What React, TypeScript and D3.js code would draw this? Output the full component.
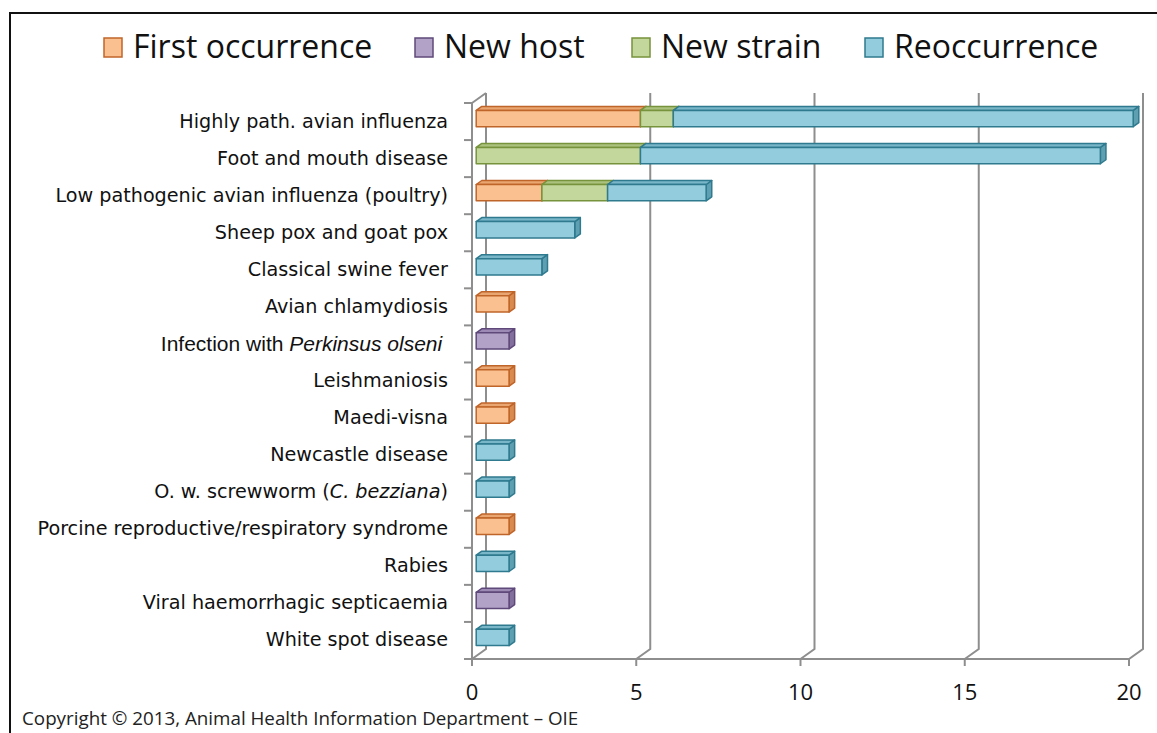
import React from "react";
import * as d3 from "d3";

const categories = [
  "Highly path. avian influenza",
  "Foot and mouth disease",
  "Low pathogenic avian influenza (poultry)",
  "Sheep pox and goat pox",
  "Classical swine fever",
  "Avian chlamydiosis",
  "Infection with *Perkinsus olseni* ",
  "Leishmaniosis",
  "Maedi-visna",
  "Newcastle disease",
  "O. w. screwworm (*C. bezziana*)",
  "Porcine reproductive/respiratory syndrome",
  "Rabies",
  "Viral haemorrhagic septicaemia",
  "White spot disease",
];

const seriesNames = ["First occurrence", "New host", "New strain", "Reoccurrence"];
const firstOccurrence = [5, 0, 2, 0, 0, 1, 0, 1, 1, 0, 0, 1, 0, 0, 0];
const newHost = [0, 0, 0, 0, 0, 0, 1, 0, 0, 0, 0, 0, 0, 1, 0];
const newStrain = [1, 5, 2, 0, 0, 0, 0, 0, 0, 0, 0, 0, 0, 0, 0];
const reoccurrence = [14, 14, 3, 3, 2, 0, 0, 0, 0, 1, 1, 0, 1, 0, 1];
const xTicks = [0, 5, 10, 15, 20];
const copyright = "Copyright © 2013, Animal Health Information Department – OIE";

const colors = [
  { fill: "#FBC08F", top: "#E9A671", side: "#D98A4F", stroke: "#C0652A" },
  { fill: "#B3A2C7", top: "#9C89B4", side: "#84709E", stroke: "#5F497A" },
  { fill: "#C3D69B", top: "#ABC27E", side: "#95AD68", stroke: "#77933C" },
  { fill: "#93CDDD", top: "#79B6C8", side: "#5E9FB2", stroke: "#2F7A8E" },
];

const DX = 14;
const DY = -10;
const F1 = 0.3;
const F2 = 0.7;

function Label({ text, x, y }: { text: string; x: number; y: number }) {
  const parts = text.split("*");
  const arial = text.includes("Perkinsus");
  return (
    <text
      x={x}
      y={y}
      textAnchor="end"
      dominantBaseline="central"
      fontFamily={arial ? "Liberation Sans, Arial, sans-serif" : "DejaVu Sans, sans-serif"}
      fontSize={arial ? 21 : 19.2}
      fill="#111"
      style={{ whiteSpace: "pre" }}
    >
      {parts.map((p, i) => (
        <tspan key={i} fontStyle={i % 2 === 1 ? "italic" : "normal"}>
          {p}
        </tspan>
      ))}
    </text>
  );
}

export default function App() {
  const x = d3.scaleLinear().domain([0, 20]).range([472, 1129]);
  const y = d3.scaleBand<string>().domain(categories).range([103, 659]).padding(0);
  const floorY = 659;
  const topY = 103;
  const barH = y.bandwidth() * 0.44;

  const series = [firstOccurrence, newHost, newStrain, reoccurrence];
  const table = categories.map((c, i) => {
    const row: any = { cat: c };
    seriesNames.forEach((s, j) => (row[s] = series[j][i]));
    return row;
  });
  const stacked = d3.stack<any>().keys(seriesNames)(table);

  const gridColor = "#8E8E8E";
  const legendX = [104, 415, 632, 865];

  const boxes: React.ReactNode[] = [];
  categories.forEach((c, i) => {
    const cy = (y(c) as number) + y.bandwidth() / 2;
    const y0 = cy - barH / 2 + F1 * DY;
    const y1 = cy + barH / 2 + F1 * DY;
    const ddx = (F2 - F1) * DX;
    const ddy = (F2 - F1) * DY;
    stacked.forEach((s, j) => {
      const d = s[i];
      if (d[1] - d[0] <= 0) return;
      const xa = x(d[0]) + F1 * DX;
      const xb = x(d[1]) + F1 * DX;
      const col = colors[j];
      const top = `M${xa},${y0} L${xa + ddx},${y0 + ddy} L${xb + ddx},${y0 + ddy} L${xb},${y0} Z`;
      const side = `M${xb},${y0} L${xb + ddx},${y0 + ddy} L${xb + ddx},${y1 + ddy} L${xb},${y1} Z`;
      boxes.push(
        <g key={`${i}-${j}`} stroke={col.stroke} strokeWidth={1.5} strokeLinejoin="round">
          <path d={side} fill={col.side} />
          <path d={top} fill={col.top} />
          <rect x={xa} y={y0} width={xb - xa} height={y1 - y0} fill={col.fill} />
        </g>
      );
    });
  });

  return (
    <svg
      width={1157}
      height={733}
      style={{ position: "absolute", left: 0, top: 0, background: "#fff" }}
    >
      <rect x={0} y={0} width={1157} height={733} fill="#fff" />
      <rect x={10} y={13} width={1200} height={800} fill="none" stroke="#111" strokeWidth={2} />

      {seriesNames.map((s, j) => (
        <g key={s}>
          <rect
            x={legendX[j]}
            y={38}
            width={18}
            height={19}
            fill={colors[j].fill}
            stroke={colors[j].stroke}
            strokeWidth={1.5}
          />
          <text
            x={legendX[j] + 29}
            y={58}
            fontFamily="Open Sans, sans-serif"
            fontSize={32}
            fill="#111"
          >
            {s}
          </text>
        </g>
      ))}

      <g stroke={gridColor} strokeWidth={2} fill="none">
        {xTicks.map((t) => (
          <path
            key={t}
            d={`M${x(t)},${floorY} L${x(t) + DX},${floorY + DY} L${x(t) + DX},${topY + DY}`}
          />
        ))}
        <path d={`M${x(0)},${topY} L${x(0) + DX},${topY + DY}`} />
        <path d={`M${x(0)},${floorY} L${x(0)},${topY}`} />
        <path d={`M${x(0)},${floorY} L${x(20)},${floorY}`} />
        {categories.map((c) => (
          <path key={c} d={`M${x(0) - 8},${y(c)} L${x(0)},${y(c)}`} />
        ))}
        <path d={`M${x(0) - 8},${floorY} L${x(0)},${floorY}`} />
        {xTicks.map((t) => (
          <path key={"t" + t} d={`M${x(t)},${floorY} L${x(t)},${floorY + 7}`} />
        ))}
      </g>

      {boxes}

      {categories.map((c) => (
        <Label key={c} text={c} x={448} y={(y(c) as number) + y.bandwidth() / 2 - 1} />
      ))}

      {xTicks.map((t) => (
        <text
          key={t}
          x={x(t)}
          y={700}
          textAnchor="middle"
          fontFamily="Open Sans, sans-serif"
          fontSize={22}
          fill="#111"
        >
          {t}
        </text>
      ))}

      <text x={22} y={725} fontFamily="Open Sans, sans-serif" fontSize={18.8} fill="#222">
        {copyright}
      </text>
    </svg>
  );
}
